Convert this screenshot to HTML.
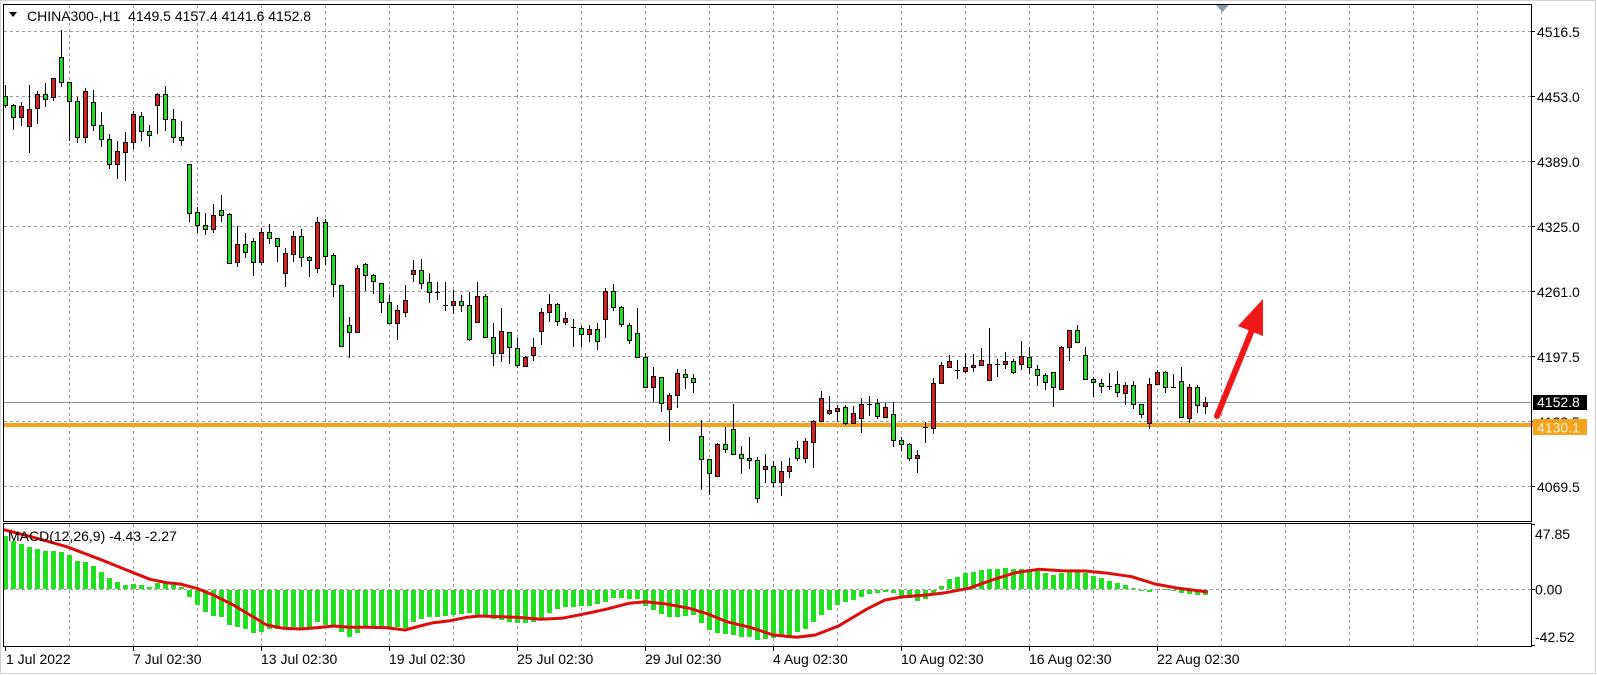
<!DOCTYPE html>
<html><head><meta charset="utf-8"><style>
html,body{margin:0;padding:0;background:#fff;}
svg{display:block;}
text{font-family:"Liberation Sans",Arial,sans-serif;font-size:14px;fill:#000;white-space:pre;}
</style></head><body>
<svg width="1597" height="675" viewBox="0 0 1597 675" xmlns="http://www.w3.org/2000/svg">
<defs>
<clipPath id="cm"><rect x="4" y="5" width="1527" height="516"/></clipPath>
<clipPath id="cd"><rect x="4" y="524" width="1527" height="122"/></clipPath>
</defs>
<rect x="0" y="0" width="1597" height="675" fill="#fff"/>
<rect x="0.5" y="0.5" width="1595" height="673" fill="none" stroke="#d2d2d2"/>
<g stroke="#9a9a9a" stroke-width="1" stroke-dasharray="3 3" fill="none">
<path d="M69.5 5V521M133.5 5V521M197.5 5V521M261.5 5V521M325.5 5V521M389.5 5V521M453.5 5V521M517.5 5V521M581.5 5V521M645.5 5V521M709.5 5V521M773.5 5V521M837.5 5V521M901.5 5V521M965.5 5V521M1029.5 5V521M1093.5 5V521M1157.5 5V521M1221.5 5V521M1285.5 5V521M1349.5 5V521M1413.5 5V521M1477.5 5V521"/>
<path d="M4 31.5H1531M4 96.5H1531M4 161.5H1531M4 226.5H1531M4 291.5H1531M4 356.5H1531M4 421.5H1531M4 486.5H1531"/>
<path d="M69.5 524V646M133.5 524V646M197.5 524V646M261.5 524V646M325.5 524V646M389.5 524V646M453.5 524V646M517.5 524V646M581.5 524V646M645.5 524V646M709.5 524V646M773.5 524V646M837.5 524V646M901.5 524V646M965.5 524V646M1029.5 524V646M1093.5 524V646M1157.5 524V646M1221.5 524V646M1285.5 524V646M1349.5 524V646M1413.5 524V646M1477.5 524V646"/>
</g>
<line x1="4" y1="402.5" x2="1531" y2="402.5" stroke="#8896a4" stroke-width="1"/>
<rect x="4" y="423" width="1529" height="4" fill="#f6a21c"/>
<g clip-path="url(#cm)">
<path stroke="#000" stroke-width="1" fill="none" d="M5.5 85V108M13.5 104V130M21.5 102V126M29.5 85V153M37.5 91V124M45.5 83V107M53.5 78V101M61.5 30V87M69.5 82V141M77.5 97V143M85.5 88V143M93.5 90V131M101.5 112V147M109.5 134V169M117.5 141V179M125.5 132V181M133.5 111V149M141.5 112V141M149.5 125V147M157.5 93V134M165.5 86V131M173.5 109V143M181.5 121V146M189.5 164V222M197.5 207V233M205.5 213V235M213.5 204V233M221.5 195V222M229.5 213V263M237.5 226V267M245.5 233V258M253.5 238V276M261.5 228V265M269.5 224V244M277.5 238V262M285.5 248V287M293.5 231V262M301.5 229V267M309.5 256V277M317.5 217V273M325.5 219V265M333.5 253V297M341.5 285V346M349.5 317V358M357.5 265V333M365.5 263V291M373.5 274V294M381.5 283V313M389.5 295V324M397.5 305V340M405.5 285V317M413.5 260V282M421.5 259V289M429.5 273V303M437.5 282V300M445.5 282V311M453.5 290V314M461.5 295V312M469.5 292V341M477.5 282V322M485.5 294V338M493.5 323V366M501.5 308V362M509.5 332V364M517.5 338V368M525.5 356V366M533.5 338V361M541.5 308V345M549.5 294V322M557.5 303V326M565.5 312V325M573.5 319V347M581.5 326V347M589.5 325V342M597.5 323V350M605.5 288V338M613.5 284V311M621.5 306V327M629.5 323V344M637.5 308V357M645.5 353V388M653.5 367V402M661.5 377V412M669.5 393V441M677.5 369V408M685.5 369V389M693.5 374V393M701.5 420V490M709.5 459V495M717.5 443V476M725.5 427V453M733.5 404V455M741.5 446V474M749.5 437V469M757.5 457V503M765.5 454V483M773.5 461V487M781.5 461V496M789.5 458V478M797.5 441V461M805.5 438V463M813.5 420V468M821.5 391V422M829.5 396V415M837.5 405V422M845.5 405V425M853.5 406V424M861.5 398V433M869.5 396V416M877.5 399V419M885.5 403V418M893.5 402V447M901.5 437V451M909.5 443V461M917.5 450V473M925.5 422V443M933.5 378V434M941.5 362V383M949.5 355V367M957.5 360V379M965.5 353V373M973.5 354V372M981.5 348V366M989.5 328V380M997.5 359V377M1005.5 352V369M1013.5 359V374M1021.5 341V370M1029.5 347V374M1037.5 365V386M1045.5 373V390M1053.5 372V407M1061.5 346V390M1069.5 330V361M1077.5 325V342M1085.5 347V379M1093.5 377V397M1101.5 379V393M1109.5 373V390M1117.5 371V397M1125.5 382V405M1133.5 381V409M1141.5 404V418M1149.5 378V429M1157.5 370V384M1165.5 371V393M1173.5 374V388M1181.5 367V418M1189.5 384V423M1197.5 385V413M1205.5 397V414"/>
<path stroke="#000" stroke-width="1" fill="none" d="M435 292.5h5M443 305.5h5M571 327.5h5M867 404.5h5M923 427.5h5M955 370.5h5M995 364.5h5M1107 386.5h5M1171 387.5h5"/>
<g fill="#20e020" stroke="#000" stroke-width="1">
<rect x="3.5" y="96.5" width="4" height="9"/><rect x="11.5" y="105.5" width="4" height="12"/><rect x="43.5" y="94.5" width="4" height="5"/><rect x="59.5" y="57.5" width="4" height="25"/><rect x="67.5" y="82.5" width="4" height="19"/><rect x="75.5" y="101.5" width="4" height="36"/><rect x="91.5" y="102.5" width="4" height="23"/><rect x="99.5" y="125.5" width="4" height="14"/><rect x="107.5" y="139.5" width="4" height="25"/><rect x="139.5" y="116.5" width="4" height="15"/><rect x="147.5" y="131.5" width="4" height="4"/><rect x="163.5" y="94.5" width="4" height="25"/><rect x="171.5" y="119.5" width="4" height="18"/><rect x="179.5" y="137.5" width="4" height="3"/><rect x="187.5" y="164.5" width="4" height="49"/><rect x="195.5" y="212.5" width="4" height="13"/><rect x="203.5" y="225.5" width="4" height="4"/><rect x="219.5" y="210.5" width="4" height="5"/><rect x="227.5" y="214.5" width="4" height="49"/><rect x="243.5" y="244.5" width="4" height="8"/><rect x="251.5" y="241.5" width="4" height="21"/><rect x="267.5" y="232.5" width="4" height="6"/><rect x="275.5" y="238.5" width="4" height="8"/><rect x="299.5" y="236.5" width="4" height="21"/><rect x="307.5" y="257.5" width="4" height="3"/><rect x="323.5" y="222.5" width="4" height="34"/><rect x="331.5" y="255.5" width="4" height="29"/><rect x="339.5" y="285.5" width="4" height="61"/><rect x="347.5" y="325.5" width="4" height="7"/><rect x="363.5" y="264.5" width="4" height="11"/><rect x="371.5" y="275.5" width="4" height="6"/><rect x="379.5" y="283.5" width="4" height="19"/><rect x="387.5" y="302.5" width="4" height="21"/><rect x="419.5" y="270.5" width="4" height="13"/><rect x="427.5" y="282.5" width="4" height="10"/><rect x="459.5" y="301.5" width="4" height="4"/><rect x="467.5" y="305.5" width="4" height="34"/><rect x="483.5" y="296.5" width="4" height="41"/><rect x="491.5" y="337.5" width="4" height="16"/><rect x="507.5" y="332.5" width="4" height="15"/><rect x="515.5" y="348.5" width="4" height="17"/><rect x="555.5" y="304.5" width="4" height="17"/><rect x="579.5" y="328.5" width="4" height="6"/><rect x="595.5" y="329.5" width="4" height="12"/><rect x="611.5" y="291.5" width="4" height="16"/><rect x="619.5" y="307.5" width="4" height="17"/><rect x="627.5" y="325.5" width="4" height="15"/><rect x="635.5" y="333.5" width="4" height="24"/><rect x="643.5" y="357.5" width="4" height="30"/><rect x="659.5" y="377.5" width="4" height="26"/><rect x="683.5" y="374.5" width="4" height="3"/><rect x="691.5" y="378.5" width="4" height="4"/><rect x="699.5" y="436.5" width="4" height="23"/><rect x="707.5" y="459.5" width="4" height="14"/><rect x="723.5" y="444.5" width="4" height="5"/><rect x="731.5" y="429.5" width="4" height="25"/><rect x="739.5" y="454.5" width="4" height="4"/><rect x="747.5" y="458.5" width="4" height="2"/><rect x="755.5" y="460.5" width="4" height="38"/><rect x="771.5" y="466.5" width="4" height="16"/><rect x="795.5" y="448.5" width="4" height="10"/><rect x="843.5" y="407.5" width="4" height="16"/><rect x="875.5" y="403.5" width="4" height="13"/><rect x="891.5" y="414.5" width="4" height="26"/><rect x="899.5" y="440.5" width="4" height="4"/><rect x="907.5" y="444.5" width="4" height="14"/><rect x="1011.5" y="361.5" width="4" height="11"/><rect x="1027.5" y="357.5" width="4" height="10"/><rect x="1035.5" y="369.5" width="4" height="6"/><rect x="1043.5" y="375.5" width="4" height="7"/><rect x="1051.5" y="372.5" width="4" height="15"/><rect x="1075.5" y="330.5" width="4" height="12"/><rect x="1083.5" y="355.5" width="4" height="24"/><rect x="1091.5" y="379.5" width="4" height="3"/><rect x="1099.5" y="383.5" width="4" height="3"/><rect x="1115.5" y="384.5" width="4" height="8"/><rect x="1131.5" y="385.5" width="4" height="19"/><rect x="1139.5" y="404.5" width="4" height="10"/><rect x="1163.5" y="372.5" width="4" height="15"/><rect x="1179.5" y="381.5" width="4" height="36"/><rect x="1195.5" y="387.5" width="4" height="18"/>
</g>
<g fill="#dc1e1e" stroke="#000" stroke-width="1">
<rect x="19.5" y="106.5" width="4" height="11"/><rect x="27.5" y="109.5" width="4" height="17"/><rect x="35.5" y="94.5" width="4" height="14"/><rect x="51.5" y="78.5" width="4" height="19"/><rect x="83.5" y="91.5" width="4" height="46"/><rect x="115.5" y="151.5" width="4" height="13"/><rect x="123.5" y="142.5" width="4" height="10"/><rect x="131.5" y="114.5" width="4" height="28"/><rect x="155.5" y="94.5" width="4" height="11"/><rect x="211.5" y="215.5" width="4" height="14"/><rect x="235.5" y="244.5" width="4" height="18"/><rect x="259.5" y="232.5" width="4" height="30"/><rect x="283.5" y="253.5" width="4" height="20"/><rect x="291.5" y="236.5" width="4" height="18"/><rect x="315.5" y="222.5" width="4" height="46"/><rect x="355.5" y="268.5" width="4" height="64"/><rect x="395.5" y="310.5" width="4" height="13"/><rect x="403.5" y="300.5" width="4" height="12"/><rect x="411.5" y="270.5" width="4" height="4"/><rect x="451.5" y="301.5" width="4" height="4"/><rect x="475.5" y="296.5" width="4" height="26"/><rect x="499.5" y="331.5" width="4" height="22"/><rect x="523.5" y="357.5" width="4" height="9"/><rect x="531.5" y="347.5" width="4" height="8"/><rect x="539.5" y="312.5" width="4" height="19"/><rect x="547.5" y="304.5" width="4" height="8"/><rect x="563.5" y="318.5" width="4" height="4"/><rect x="587.5" y="329.5" width="4" height="5"/><rect x="603.5" y="291.5" width="4" height="28"/><rect x="651.5" y="376.5" width="4" height="11"/><rect x="667.5" y="395.5" width="4" height="14"/><rect x="675.5" y="373.5" width="4" height="22"/><rect x="715.5" y="444.5" width="4" height="32"/><rect x="763.5" y="466.5" width="4" height="3"/><rect x="779.5" y="471.5" width="4" height="11"/><rect x="787.5" y="466.5" width="4" height="5"/><rect x="803.5" y="441.5" width="4" height="17"/><rect x="811.5" y="421.5" width="4" height="21"/><rect x="819.5" y="398.5" width="4" height="23"/><rect x="827.5" y="410.5" width="4" height="3"/><rect x="835.5" y="408.5" width="4" height="3"/><rect x="851.5" y="413.5" width="4" height="10"/><rect x="859.5" y="404.5" width="4" height="14"/><rect x="883.5" y="407.5" width="4" height="10"/><rect x="915.5" y="455.5" width="4" height="3"/><rect x="931.5" y="383.5" width="4" height="45"/><rect x="939.5" y="365.5" width="4" height="18"/><rect x="947.5" y="361.5" width="4" height="6"/><rect x="963.5" y="367.5" width="4" height="4"/><rect x="971.5" y="365.5" width="4" height="2"/><rect x="979.5" y="360.5" width="4" height="5"/><rect x="987.5" y="364.5" width="4" height="16"/><rect x="1003.5" y="361.5" width="4" height="3"/><rect x="1019.5" y="356.5" width="4" height="8"/><rect x="1059.5" y="347.5" width="4" height="42"/><rect x="1067.5" y="330.5" width="4" height="17"/><rect x="1123.5" y="385.5" width="4" height="8"/><rect x="1147.5" y="384.5" width="4" height="39"/><rect x="1155.5" y="372.5" width="4" height="12"/><rect x="1187.5" y="387.5" width="4" height="31"/><rect x="1203.5" y="402.5" width="4" height="4"/>
</g>
</g>
<line x1="1217" y1="416" x2="1252" y2="330" stroke="#f01818" stroke-width="6" stroke-linecap="round"/>
<polygon points="1263,299 1238,326 1263,336" fill="#f01818"/>
<polygon points="1215,4 1230,4 1222.5,12" fill="#8a9aab"/>
<g clip-path="url(#cd)">
<path stroke="#20e020" stroke-width="5" fill="none" d="M5.5 589V536M13.5 589V541M21.5 589V544M29.5 589V547M37.5 589V549M45.5 589V551M53.5 589V551M61.5 589V552M69.5 589V555M77.5 589V561M85.5 589V562M93.5 589V566M101.5 589V572M109.5 589V578M117.5 589V582M125.5 589V585M133.5 589V584M141.5 589V585M149.5 589V587M157.5 589V583M165.5 589V582M173.5 589V585M181.5 589V587M189.5 590V597M197.5 590V605M205.5 590V612M213.5 590V616M221.5 590V617M229.5 590V625M237.5 590V627M245.5 590V629M253.5 590V633M261.5 590V632M269.5 590V629M277.5 590V629M285.5 590V628M293.5 590V627M301.5 590V628M309.5 590V627M317.5 590V622M325.5 590V625M333.5 590V627M341.5 590V632M349.5 590V637M357.5 590V633M365.5 590V628M373.5 590V628M381.5 590V628M389.5 590V627M397.5 590V627M405.5 590V628M413.5 590V622M421.5 590V619M429.5 590V617M437.5 590V617M445.5 590V616M453.5 590V615M461.5 590V614M469.5 590V613M477.5 590V615M485.5 590V616M493.5 590V619M501.5 590V620M509.5 590V622M517.5 590V623M525.5 590V623M533.5 590V622M541.5 590V618M549.5 590V613M557.5 590V609M565.5 590V607M573.5 590V607M581.5 590V606M589.5 590V606M597.5 590V604M605.5 590V602M613.5 590V598M621.5 590V598M629.5 590V599M637.5 590V599M645.5 590V606M653.5 590V610M661.5 590V614M669.5 590V617M677.5 590V617M685.5 590V616M693.5 590V615M701.5 590V623M709.5 590V630M717.5 590V633M725.5 590V634M733.5 590V635M741.5 590V637M749.5 590V637M757.5 590V640M765.5 590V639M773.5 590V638M781.5 590V637M789.5 590V635M797.5 590V632M805.5 590V629M813.5 590V622M821.5 590V615M829.5 590V610M837.5 590V605M845.5 590V602M853.5 590V600M861.5 590V597M869.5 590V594M877.5 590V593M885.5 590V592M893.5 590V593M901.5 590V596M909.5 590V598M917.5 590V601M925.5 590V599M933.5 590V594M941.5 589V586M949.5 589V579M957.5 589V577M965.5 589V573M973.5 589V572M981.5 589V570M989.5 589V569M997.5 589V569M1005.5 589V568M1013.5 589V569M1021.5 589V569M1029.5 589V569M1037.5 589V571M1045.5 589V573M1053.5 589V575M1061.5 589V573M1069.5 589V570M1077.5 589V570M1085.5 589V573M1093.5 589V576M1101.5 589V578M1109.5 589V581M1117.5 589V583M1125.5 589V585M1133.5 589V588M1141.5 590V591M1149.5 590V592M1157.5 589V590M1165.5 589V590M1173.5 590V591M1181.5 590V593M1189.5 590V594M1197.5 590V595M1205.5 590V595"/>
<line x1="4" y1="589.5" x2="1531" y2="589.5" stroke="#9a9a9a" stroke-dasharray="3 3"/>
<polyline fill="none" stroke="#e00c0c" stroke-width="3" stroke-linejoin="round" stroke-linecap="round" points="5,530 33.3,537.3 66.7,546.7 100,559.3 116.7,566 133.3,572.7 150,579.3 166.7,582.7 180,584 196.7,588.3 213.3,595 233.3,605 250,615 266.7,625 283.3,628.3 300,629 316.7,627.7 333.3,626 350,627.3 366.7,627.3 386.7,627.7 405,630 420,626 433.3,622.7 450,620.7 466.7,617.3 480,616 517,617.3 540.5,619.3 561.5,618.3 582.4,614.3 605.7,609.3 629,603.3 645.3,601.7 666.2,604 689.5,608.3 708.1,614 726.7,621.7 750,627.3 773.3,635 796.6,637.3 815.2,635 838.5,626 866.4,609.3 885,600 903.6,596.7 926.9,595 945.5,592.7 968.8,588.3 992.1,580 1015.4,572.7 1038.7,569.3 1062,570.7 1085.2,571 1108.5,573.3 1131.8,576.7 1155.1,584 1178.4,588.3 1206.3,591.7"/>
</g>
<g fill="none" stroke="#000" stroke-width="1">
<rect x="3.5" y="4.5" width="1528" height="517"/>
<rect x="3.5" y="523.5" width="1528" height="123"/>
<path d="M1531 31.5h4M1531 96.5h4M1531 161.5h4M1531 226.5h4M1531 291.5h4M1531 356.5h4M1531 421.5h4M1531 486.5h4M1531 589.5h4M1531 524.5h4M1531 645.5h4"/>
<path d="M5.5 646V651M133.5 646V651M261.5 646V651M389.5 646V651M517.5 646V651M645.5 646V651M773.5 646V651M901.5 646V651M1029.5 646V651M1157.5 646V651"/>
</g>
<polygon points="9,12 17,12 13,17" fill="#000"/>
<text x="27" y="21">CHINA300-,H1  4149.5 4157.4 4141.6 4152.8</text>
<text x="8" y="541">MACD(12,26,9) -4.43 -2.27</text>
<text x="1537" y="37">4516.5</text>
<text x="1537" y="102">4453.0</text>
<text x="1537" y="167">4389.0</text>
<text x="1537" y="232">4325.0</text>
<text x="1537" y="297">4261.0</text>
<text x="1537" y="362">4197.5</text>
<text x="1537" y="427">4133.5</text>
<text x="1537" y="492">4069.5</text>
<rect x="1533" y="395" width="54" height="15" fill="#000"/>
<text x="1537" y="407" style="fill:#fff">4152.8</text>
<rect x="1533" y="419" width="54" height="16" fill="#f6a21c"/>
<text x="1537" y="432.5" style="fill:#fff4e0">4130.1</text>
<text x="1535" y="539">47.85</text>
<text x="1535" y="594.5">0.00</text>
<text x="1535" y="642">-42.52</text>
<text x="6" y="664">1 Jul 2022</text>
<text x="133" y="664">7 Jul 02:30</text>
<text x="261" y="664">13 Jul 02:30</text>
<text x="389" y="664">19 Jul 02:30</text>
<text x="517" y="664">25 Jul 02:30</text>
<text x="645" y="664">29 Jul 02:30</text>
<text x="773" y="664">4 Aug 02:30</text>
<text x="901" y="664">10 Aug 02:30</text>
<text x="1029" y="664">16 Aug 02:30</text>
<text x="1157" y="664">22 Aug 02:30</text>
</svg>
</body></html>
